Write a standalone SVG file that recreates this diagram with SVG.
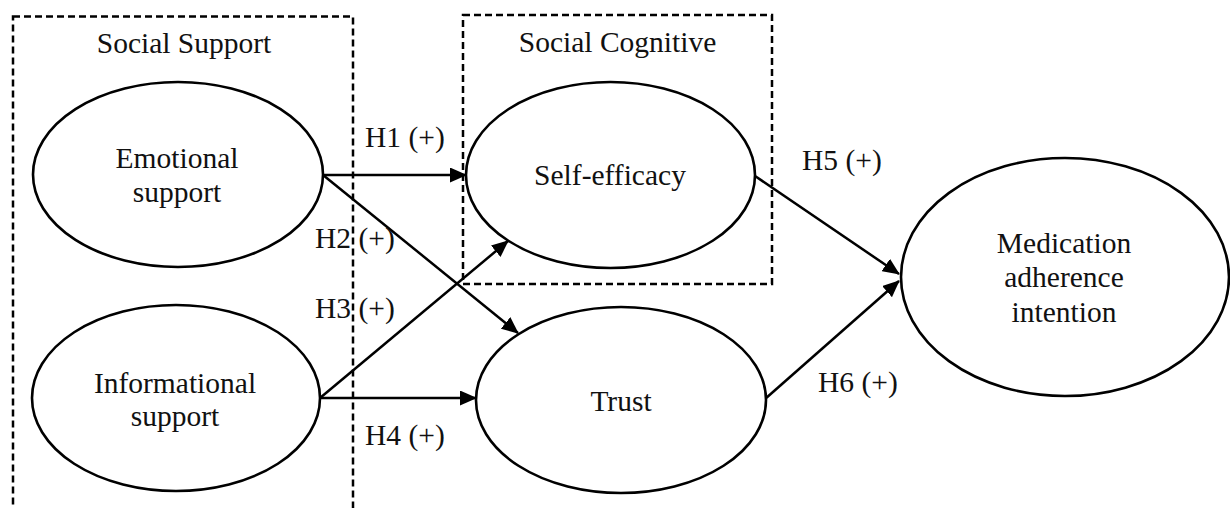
<svg xmlns="http://www.w3.org/2000/svg" width="1230" height="508" viewBox="0 0 1230 508">
  <style>
    .box { fill: none; stroke: #000; stroke-width: 2.5; stroke-dasharray: 7 4; }
    .node { fill: #fff; stroke: #000; stroke-width: 2.6; }
    .lbl { font-family: "Liberation Serif", "Times New Roman", serif; font-size: 29.5px; fill: #111; }
    .c { text-anchor: middle; }
    .edge { fill: none; stroke: #000; stroke-width: 2.5; }
  </style>
  <defs>
    <marker id="arr" viewBox="0 0 17 15" refX="16" refY="7.5" markerWidth="17" markerHeight="15" markerUnits="userSpaceOnUse" orient="auto">
      <path d="M0,0 L17,7.5 L0,15 z" fill="#000"/>
    </marker>
  </defs>
  <rect width="1230" height="508" fill="#fff"/>

  <g id="group-social-support">
    <rect class="box" x="13" y="16.5" width="340" height="520"/>
    <text class="lbl c" x="184" y="53">Social Support</text>
  </g>
  <g id="group-social-cognitive">
    <rect class="box" x="463" y="15" width="309" height="269"/>
    <text class="lbl c" x="617.5" y="52">Social Cognitive</text>
  </g>

  <g id="connectors">
    <path class="edge" d="M323,175 L466,175" marker-end="url(#arr)"/>
    <path class="edge" d="M323,175 L518,333" marker-end="url(#arr)"/>
    <path class="edge" d="M320,398 L508,241" marker-end="url(#arr)"/>
    <path class="edge" d="M320,398 L476,398" marker-end="url(#arr)"/>
    <path class="edge" d="M755,176 L899,274" marker-end="url(#arr)"/>
    <path class="edge" d="M765,399 L899,281" marker-end="url(#arr)"/>
    <text class="lbl" x="365" y="147">H1 (+)</text>
    <text class="lbl" x="315" y="248">H2 (+)</text>
    <text class="lbl" x="315" y="318">H3 (+)</text>
    <text class="lbl" x="365" y="445">H4 (+)</text>
    <text class="lbl" x="802" y="170">H5 (+)</text>
    <text class="lbl" x="818" y="392">H6 (+)</text>
  </g>

  <g id="node-emotional">
    <ellipse class="node" cx="178" cy="174.5" rx="145" ry="92.5"/>
    <text class="lbl c" x="177" y="168">Emotional</text>
    <text class="lbl c" x="177" y="202">support</text>
  </g>
  <g id="node-informational">
    <ellipse class="node" cx="176" cy="398" rx="144" ry="93"/>
    <text class="lbl c" x="175" y="393">Informational</text>
    <text class="lbl c" x="175" y="426">support</text>
  </g>
  <g id="node-self-efficacy">
    <ellipse class="node" cx="610.5" cy="175" rx="144.5" ry="93"/>
    <text class="lbl c" x="610" y="185">Self-efficacy</text>
  </g>
  <g id="node-trust">
    <ellipse class="node" cx="621" cy="400" rx="145" ry="93"/>
    <text class="lbl c" x="621" y="411">Trust</text>
  </g>
  <g id="node-medication">
    <ellipse class="node" cx="1065" cy="277" rx="164" ry="119"/>
    <text class="lbl c" x="1064" y="253">Medication</text>
    <text class="lbl c" x="1064" y="287">adherence</text>
    <text class="lbl c" x="1064" y="322">intention</text>
  </g>
</svg>
